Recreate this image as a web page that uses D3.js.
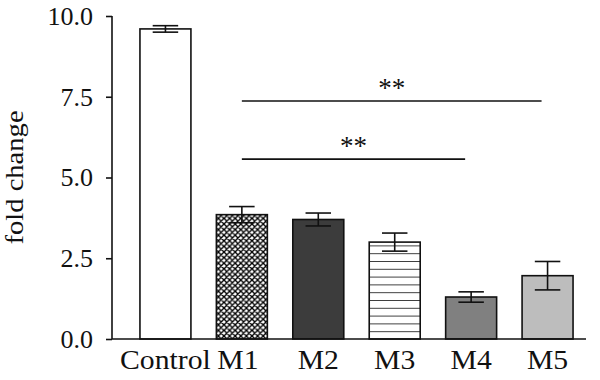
<!DOCTYPE html>
<html>
<head>
<meta charset="utf-8">
<script src="https://cdn.jsdelivr.net/npm/d3@7"></script>
<style>
    body { margin: 0; background: #fff; }
    svg { display: block; }
</style>
</head>
<body>
<div id="chart"></div>
<script>
// Values
const categories = ["Control", "M1", "M2", "M3", "M4", "M5"];
const means = [9.6, 3.85, 3.7, 3.0, 1.3, 1.96];
const errors = [0.1, 0.25, 0.2, 0.28, 0.16, 0.44];
const fills = ["#ffffff", "url(#cross)", "#3c3c3c", "url(#hlines)", "#808080", "#bdbdbd"];
const yTicks = [0, 2.5, 5, 7.5, 10];
const brackets = [
    {from: "M1", to: "M5", value: 7.37, label: "**"},
    {from: "M1", to: "M4", value: 5.57, label: "**"}
];

const width = 600, height = 380;
const margin = {top: 16, right: 14, bottom: 41, left: 112};
const font = "'Liberation Serif', 'Times New Roman', serif";

const svg = d3.select("#chart")
    .append("svg")
    .attr("width", width)
    .attr("height", height)
    .attr("viewBox", [0, 0, width, height]);

const defs = svg.append("defs");

const y = d3.scaleLinear()
    .domain([0, 10])
    .range([height - margin.bottom, margin.top]);

const x = d3.scaleBand()
    .domain(categories)
    .range([114.5, 598.5])
    .padding(0.333);

// crosshatch pattern (M1)
const cs = 5.6;
const cross = defs.append("pattern")
    .attr("id", "cross")
    .attr("patternUnits", "userSpaceOnUse")
    .attr("width", cs)
    .attr("height", cs);
cross.append("rect").attr("width", cs).attr("height", cs).attr("fill", "#fff");
cross.append("path")
    .attr("d", `M0,0L${cs},${cs}M${cs},0L0,${cs}M-1,${cs - 1}L1,${cs + 1}M${cs - 1},-1L${cs + 1},1M-1,1L1,-1M${cs - 1},${cs + 1}L${cs + 1},${cs - 1}`)
    .attr("stroke", "#000")
    .attr("stroke-width", 1.35);

// horizontal lines pattern (M3)
const hl = defs.append("pattern")
    .attr("id", "hlines")
    .attr("patternUnits", "userSpaceOnUse")
    .attr("width", 10)
    .attr("height", 7.8)
    .attr("patternTransform", `translate(0,${y(0)})`);
hl.append("rect").attr("width", 10).attr("height", 7.8).attr("fill", "#fff");
hl.append("line")
    .attr("x1", 0).attr("x2", 10)
    .attr("y1", 0).attr("y2", 0)
    .attr("stroke", "#111")
    .attr("stroke-width", 1.6);

const data = categories.map((c, i) => ({cat: c, mean: means[i], err: errors[i], fill: fills[i]}));

// bars
svg.append("g")
    .selectAll("rect")
    .data(data)
    .join("rect")
    .attr("x", d => x(d.cat))
    .attr("y", d => y(d.mean))
    .attr("width", x.bandwidth())
    .attr("height", d => y(0) - y(d.mean))
    .attr("fill", d => d.fill)
    .attr("stroke", "#111")
    .attr("stroke-width", 1.6);

// error bars
const capW = x.bandwidth() / 2;
const eb = svg.append("g")
    .attr("stroke", "#111")
    .attr("stroke-width", 1.6)
    .selectAll("g")
    .data(data)
    .join("g")
    .attr("transform", d => `translate(${x(d.cat) + x.bandwidth() / 2},0)`);
eb.append("line")
    .attr("y1", d => y(d.mean + d.err))
    .attr("y2", d => y(d.mean - d.err));
eb.append("line")
    .attr("x1", -capW / 2).attr("x2", capW / 2)
    .attr("y1", d => y(d.mean + d.err)).attr("y2", d => y(d.mean + d.err));
eb.append("line")
    .attr("x1", -capW / 2).attr("x2", capW / 2)
    .attr("y1", d => y(d.mean - d.err)).attr("y2", d => y(d.mean - d.err));

// y axis
const yAxis = svg.append("g")
    .attr("transform", `translate(${margin.left},0)`)
    .call(d3.axisLeft(y).tickValues(yTicks).tickFormat(d3.format(".1f")).tickSize(6).tickSizeOuter(0).tickPadding(13));
yAxis.select(".domain").attr("stroke", "#111").attr("stroke-width", 1.6)
    .attr("d", `M0,${y(0)}V${y(10)}`);
yAxis.selectAll(".tick line").attr("stroke", "#111").attr("stroke-width", 1.6);
yAxis.selectAll(".tick text")
    .attr("font-family", font)
    .attr("font-size", 26)
    .attr("fill", "#111");

// x axis
const xAxis = svg.append("g")
    .attr("transform", `translate(0,${y(0)})`)
    .call(d3.axisBottom(x).tickSize(0).tickPadding(0));
xAxis.select(".domain").attr("stroke", "#111").attr("stroke-width", 1.6)
    .attr("d", `M${margin.left},0H${width - margin.right}`);
xAxis.selectAll(".tick text")
    .attr("font-family", font)
    .attr("font-size", 27)
    .attr("fill", "#111")
    .attr("y", 0)
    .attr("dy", 0)
    .attr("transform", d => `translate(${d === "M1" ? -4 : 0},30) scale(1.1,1)`);

// y axis title
svg.append("text")
    .attr("transform", `translate(23,${(y(0) + y(10)) / 2}) rotate(-90) scale(1.1,1)`)
    .attr("text-anchor", "middle")
    .attr("font-family", font)
    .attr("font-size", 26)
    .attr("fill", "#111")
    .text("fold change");

// significance brackets
const mid = c => x(c) + x.bandwidth() / 2;
const sig = svg.append("g");
sig.selectAll("line")
    .data(brackets)
    .join("line")
    .attr("x1", d => mid(d.from))
    .attr("x2", d => mid(d.to) - 6)
    .attr("y1", d => y(d.value))
    .attr("y2", d => y(d.value))
    .attr("stroke", "#111")
    .attr("stroke-width", 1.6);
sig.selectAll("text")
    .data(brackets)
    .join("text")
    .attr("x", d => (mid(d.from) + mid(d.to) - 6) / 2)
    .attr("y", d => y(d.value) - 4)
    .attr("text-anchor", "middle")
    .attr("font-family", font)
    .attr("font-size", 27)
    .attr("fill", "#111")
    .text(d => d.label);
</script>
</body>
</html>
